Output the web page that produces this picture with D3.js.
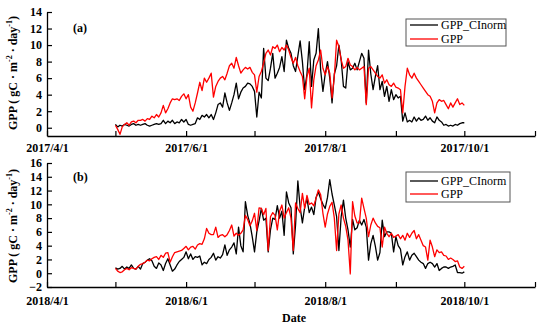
<!DOCTYPE html>
<html><head><meta charset="utf-8">
<script src="https://cdn.jsdelivr.net/npm/d3@7"></script>
<style>
body{margin:0;background:#fff;}
svg{display:block;}
text{font-family:"Liberation Serif","Times New Roman",serif;}
</style></head>
<body>
<svg id="chart" width="550" height="328"></svg>
<script>
// ---- data ----
const seriesNames = ["GPP_CInorm", "GPP"];
const startA = "2017-05-01";
const startB = "2018-05-01";
const yTicksA = [0,2,4,6,8,10,12,14];
const yTicksB = [-2,0,2,4,6,8,10,12,14,16];

const cinormA = [0.4,0.1,0.3,0.2,0.4,0.3,0.2,0.4,0.5,0.3,
0.4,0.3,0.4,0.5,0.3,0.2,0.3,0.4,0.5,0.4,
0.5,0.9,0.5,0.8,0.6,0.9,0.5,0.7,0.6,1.0,
0.7,1.0,0.4,0.3,0.4,0.5,1.2,1.0,1.5,1.3,
1.6,1.2,1.6,1.0,1.8,2.8,3.0,2.5,4.2,3.0,
2.1,3.0,4.0,5.4,3.5,4.3,4.8,5.0,5.4,5.3,
5.0,4.4,1.3,4.3,3.6,9.6,6.0,5.7,7.2,9.0,
6.0,6.6,7.3,8.6,6.8,10.6,9.6,9.0,7.5,6.8,
8.7,10.5,8.0,4.6,6.5,10.4,5.0,8.2,9.0,12.0,
7.0,4.4,6.5,8.0,6.0,3.0,6.5,7.5,10.0,8.2,
5.0,4.8,8.0,7.0,7.2,7.8,7.0,8.0,9.0,8.4,
3.0,9.4,6.5,4.6,6.2,7.5,4.6,5.6,3.8,5.0,
3.2,4.6,3.4,4.0,3.6,3.8,0.8,1.8,0.7,0.9,
0.7,1.3,0.8,1.2,0.9,1.0,1.4,0.9,1.2,0.8,
0.6,1.3,0.9,0.7,0.3,0.4,0.2,0.3,0.2,0.4,
0.3,0.5,0.6,0.6];

const gppA = [0.3,-0.2,-0.8,0.1,0.4,0.6,0.3,0.7,0.8,0.6,
0.9,0.9,1.0,0.8,1.1,1.0,1.4,1.2,1.6,1.3,
1.8,2.7,1.8,2.3,3.0,3.5,3.4,3.5,3.3,3.8,
4.1,3.5,4.0,2.5,2.0,3.0,4.2,5.5,4.5,6.0,
5.5,6.0,6.6,3.7,5.0,5.6,6.0,6.2,5.8,6.6,
7.5,7.8,7.2,8.5,7.5,6.6,7.0,7.3,7.1,7.3,
6.7,6.4,4.3,6.2,6.8,7.8,9.0,9.4,8.8,9.8,
9.6,10.0,9.2,9.7,9.4,10.0,9.4,8.5,7.8,8.5,
7.5,6.8,6.2,3.5,6.2,7.2,2.4,5.8,7.5,8.2,
9.4,7.2,6.4,7.4,6.6,3.6,6.2,10.6,9.8,8.2,
7.2,7.4,8.4,7.6,7.4,7.0,7.3,7.0,7.2,7.4,
2.8,7.2,7.4,7.0,6.6,6.2,6.0,6.4,5.4,5.8,
5.2,5.0,5.4,4.9,4.8,4.6,1.8,5.0,7.2,6.4,
6.0,6.6,6.0,5.6,5.2,4.8,4.4,4.0,3.8,3.2,
1.8,3.0,3.4,3.2,3.3,2.8,2.3,3.0,2.5,3.0,
3.5,2.8,3.0,2.7];

const cinormB = [0.8,0.6,0.7,1.0,0.6,0.9,0.7,1.2,0.7,0.6,
1.0,0.6,1.4,1.6,1.9,2.1,1.8,1.0,0.7,1.5,
1.2,0.4,1.4,2.1,1.2,0.3,0.6,1.2,1.7,2.0,
2.3,3.1,2.1,2.8,2.0,2.4,2.3,2.5,1.2,1.6,
1.4,2.0,2.3,2.9,1.9,2.4,2.2,2.7,4.1,2.6,
3.4,3.8,4.4,2.8,6.7,4.0,3.1,10.4,8.4,7.2,
5.3,3.1,6.0,7.6,9.4,7.7,8.0,3.1,6.3,8.0,
7.8,9.8,8.0,9.0,5.5,11.8,10.2,9.5,2.8,7.0,
13.4,9.6,7.3,9.6,10.8,8.8,9.6,8.5,11.0,11.8,
10.8,10.0,9.4,11.0,13.6,11.5,9.9,8.2,3.3,8.2,
10.6,8.0,6.3,3.8,7.8,6.3,6.6,7.7,7.0,7.8,
6.7,1.9,4.3,5.5,3.9,1.9,3.0,7.7,5.3,6.0,
6.0,5.8,3.1,5.3,4.0,3.5,1.2,2.4,3.1,1.9,
2.6,2.9,2.4,1.9,1.6,1.4,0.7,1.4,1.6,1.4,
0.9,1.4,0.4,0.7,0.9,0.9,0.7,0.9,1.0,1.2,
0.1,0.1,0.0,0.2];

const gppB = [0.7,0.3,0.1,0.2,0.5,0.7,0.5,0.8,0.7,0.6,
1.0,1.3,1.4,1.6,1.9,1.8,2.1,2.3,2.4,2.0,
2.6,2.3,2.9,3.0,1.6,2.4,3.0,3.1,3.2,3.3,
3.6,3.9,3.4,3.8,3.9,3.5,4.1,4.3,4.2,5.0,
6.5,5.8,5.6,5.6,6.7,5.2,5.5,5.6,5.3,5.6,
6.2,7.0,5.4,5.8,5.5,5.8,6.3,8.4,7.8,6.9,
7.6,8.7,6.2,9.5,9.4,8.5,9.4,3.3,8.2,8.8,
8.4,6.3,9.0,9.9,8.0,8.8,9.5,8.0,3.3,10.2,
9.4,8.8,11.6,9.4,11.3,10.0,10.2,9.8,10.9,12.1,
11.4,8.7,6.7,8.6,9.7,10.3,8.0,3.3,8.6,9.9,
8.0,6.8,4.8,-0.1,10.4,8.3,7.3,7.3,10.9,9.4,
8.0,5.3,7.0,8.0,7.3,6.8,6.6,3.8,6.7,5.8,
5.3,5.8,5.2,5.4,5.6,5.0,5.5,4.8,5.8,5.2,
5.8,6.2,5.0,5.6,4.8,4.0,3.8,1.9,4.8,3.8,
2.4,3.4,3.0,3.1,2.6,2.5,2.0,2.2,2.0,1.7,
1.8,0.9,0.7,1.0];

// ---- drawing ----
const svg = d3.select("#chart");
const parse = d3.timeParse("%Y-%m-%d");
const fmt = d3.timeFormat("%Y/%-m/%-d");
const colors = ["#000000", "#ff0000"];

const panels = [
  {year:2017, start:startA, series:[cinormA, gppA], yDomain:[-1,14], yTop:12, yBottom:136, ticks:yTicksA,
   tag:"(a)", tagX:73, tagY:32, titleY:73, leg:{x:406,y:19,w:100,h:27,r1:25,r2:39}, xLabelY:7},
  {year:2018, start:startB, series:[cinormB, gppB], yDomain:[-2,16], yTop:163, yBottom:287, ticks:yTicksB,
   tag:"(b)", tagX:73, tagY:181, titleY:226, leg:{x:406,y:172,w:104,h:30,r1:181,r2:194}, xLabelY:9}
];

const xLeft = 47, xRight = 535;

panels.forEach(p => {
  const x = d3.scaleTime()
    .domain([new Date(p.year,3,1), new Date(p.year,10,1)])
    .range([xLeft, xRight]);
  const y = d3.scaleLinear().domain(p.yDomain).range([p.yBottom, p.yTop]);

  const g = svg.append("g");

  // x axis
  const xAxis = d3.axisBottom(x)
    .ticks(d3.timeMonth.every(1))
    .tickSizeInner(-5).tickSizeOuter(0).tickPadding(p.xLabelY)
    .tickFormat(d => (d.getMonth() % 2 === 1) ? fmt(d) : "");
  const gx = g.append("g").attr("transform", `translate(0,${p.yBottom})`).call(xAxis);
  gx.selectAll("text").attr("font-size", 12).attr("font-weight", "bold").attr("fill", "#000")
    .style("font-family", '"Liberation Serif","Times New Roman",serif');

  // y axis
  const yAxis = d3.axisLeft(y).tickValues(p.ticks)
    .tickSizeInner(-5).tickSizeOuter(0).tickPadding(5);
  const gy = g.append("g").attr("transform", `translate(${xLeft},0)`).call(yAxis);
  gy.selectAll("text").attr("font-size", 12).attr("font-weight", "bold").attr("fill", "#000")
    .style("font-family", '"Liberation Serif","Times New Roman",serif');

  [gx, gy].forEach(a => {
    a.select(".domain").attr("stroke", "#000").attr("stroke-width", 1.3);
    a.selectAll(".tick line").attr("stroke", "#000").attr("stroke-width", 1.2);
  });

  // lines
  const t0 = parse(p.start);
  p.series.forEach((vals, k) => {
    const pts = vals.map((v, i) => ({d: d3.timeDay.offset(t0, i), v}));
    g.append("path").datum(pts)
      .attr("fill", "none").attr("stroke", colors[k]).attr("stroke-width", 1.3)
      .attr("stroke-linejoin", "round")
      .attr("d", d3.line().x(d => x(d.d)).y(d => y(d.v)));
  });

  // tag
  g.append("text").attr("x", p.tagX).attr("y", p.tagY).text(p.tag)
    .attr("font-size", 12).attr("font-weight", "bold");

  // y title
  const tt = g.append("text")
    .attr("transform", `translate(17,${p.titleY}) rotate(-90)`)
    .attr("text-anchor", "middle").attr("font-size", 12).attr("font-weight", "bold");
  tt.append("tspan").text("GPP ( gC · m");
  tt.append("tspan").text("-2").attr("font-size", 8).attr("dy", -5);
  tt.append("tspan").text(" · day").attr("dy", 5);
  tt.append("tspan").text("-1").attr("font-size", 8).attr("dy", -5);
  tt.append("tspan").text(")").attr("dy", 5);

  // legend
  const L = p.leg;
  g.append("rect").attr("x", L.x).attr("y", L.y).attr("width", L.w).attr("height", L.h)
    .attr("fill", "#fff").attr("stroke", "#555").attr("stroke-width", 1);
  [L.r1, L.r2].forEach((ry, k) => {
    g.append("line").attr("x1", L.x + 4).attr("x2", L.x + 32).attr("y1", ry).attr("y2", ry)
      .attr("stroke", colors[k]).attr("stroke-width", 1.3);
    g.append("text").attr("x", L.x + 35).attr("y", ry).attr("dy", "0.35em")
      .attr("font-size", 12).text(seriesNames[k]);
  });
});

svg.append("text").attr("x", 282).attr("y", 322).text("Date")
  .attr("font-size", 12).attr("font-weight", "bold");
</script>
</body></html>
